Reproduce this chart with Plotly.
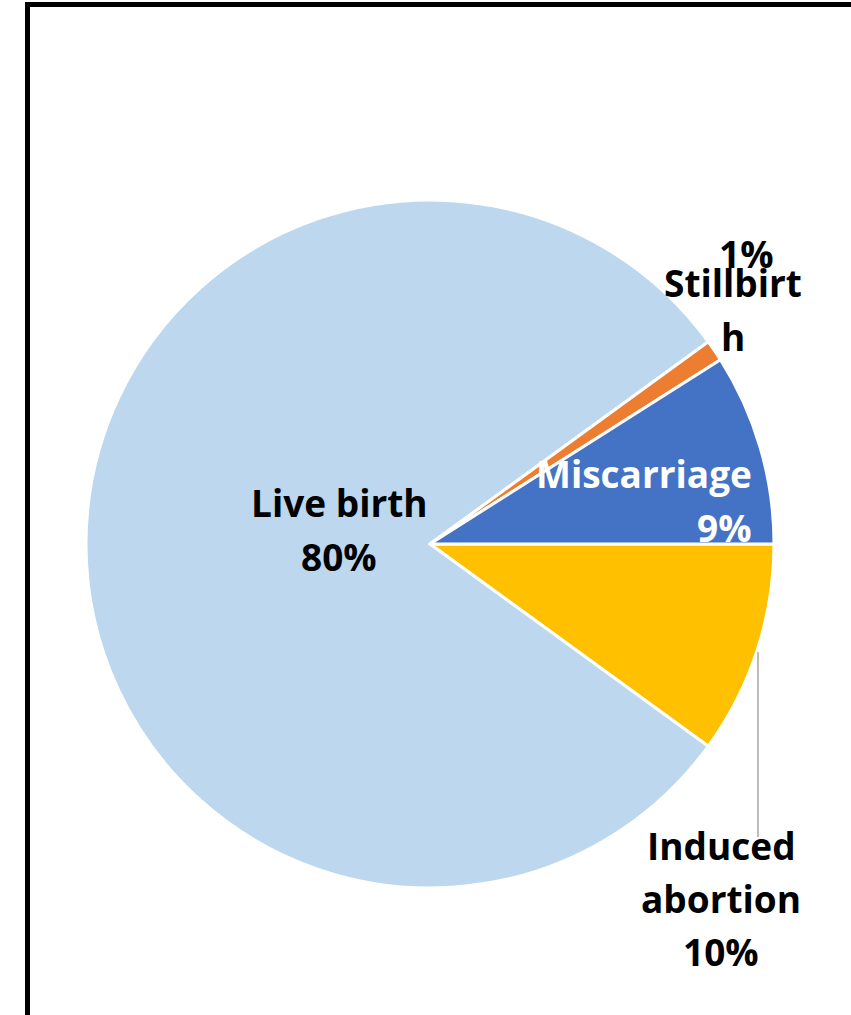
import plotly.graph_objects as go

W, H = 851, 1015

categories = ["Induced abortion", "Live birth", "Stillbirth", "Miscarriage"]
values = [10, 80, 1, 9]
colors = ["#FFC000", "#BDD7EE", "#ED7D31", "#4472C4"]

total = sum(values)
pct = {c: round(v * 100 / total) for c, v in zip(categories, values)}


def px(x):
    return x / W


def py(y):
    return 1 - y / H


# pie centre and radius in screen pixels
cx, cy, r = 430, 544, 344

fig = go.Figure()
fig.add_trace(go.Pie(
    labels=categories,
    values=values,
    sort=False,
    direction="clockwise",
    rotation=90,
    marker=dict(colors=colors, line=dict(color="white", width=3)),
    textinfo="none",
    hoverinfo="label+percent",
    showlegend=False,
    domain=dict(x=[px(cx - r), px(cx + r)], y=[py(cy + r), py(cy - r)]),
))

FONT = "Open Sans"
FS = 37


def add_lines(lines, x, y0, dy, color="black", anchor="center"):
    for i, t in enumerate(lines):
        fig.add_annotation(x=px(x), y=py(y0 + i * dy), text=f"<b>{t}</b>",
                           xref="paper", yref="paper", showarrow=False,
                           xanchor=anchor, yanchor="middle",
                           font=dict(family=FONT, size=FS, color=color))


add_lines(["Live birth", f"{pct['Live birth']}%"], 339, 502, 54)
add_lines(["Miscarriage", f"{pct['Miscarriage']}%"], 754, 474, 53, color="white", anchor="right")
add_lines([f"{pct['Stillbirth']}%"], 746, 253, 0)
add_lines(["Stillbirt", "h"], 733, 282, 54)
add_lines(["Induced", "abortion", f"{pct['Induced abortion']}%"], 721, 845, 53)

# leader line for induced abortion
fig.add_shape(type="line", xref="paper", yref="paper",
              x0=px(758), x1=px(758), y0=py(652), y1=py(837),
              line=dict(color="#A6A6A6", width=1.5))

# chart frame (right and bottom edges are cut off)
fig.add_shape(type="rect", xref="paper", yref="paper",
              x0=px(27.5), x1=px(W + 30), y0=py(H + 30), y1=py(4.5),
              line=dict(color="black", width=5))

fig.update_layout(
    width=W, height=H,
    margin=dict(l=0, r=0, t=0, b=0),
    paper_bgcolor="white",
    plot_bgcolor="white",
)

fig.write_html("out.html", config={"displayModeBar": False},
               post_script="document.body.style.margin = '0';")
